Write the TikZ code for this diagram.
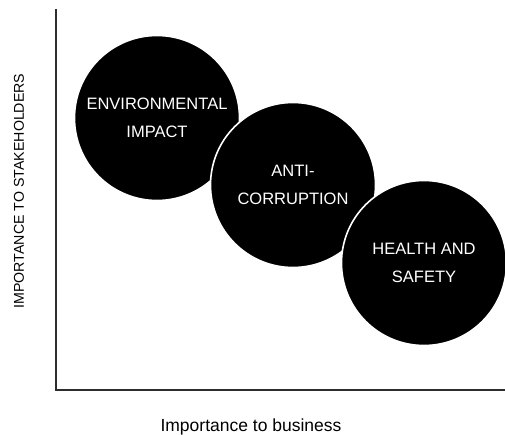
\documentclass[tikz,border=0pt]{standalone}
\usepackage{fontspec}
\setmainfont{Liberation Sans}
\usetikzlibrary{positioning}
\definecolor{axisgray}{RGB}{45,45,45}

\begin{document}
\begin{tikzpicture}[x=1pt, y=-1pt,
    bubble/.style={circle, fill=black, draw=white, line width=1.6pt, minimum size=165pt, inner sep=0pt, text=white, align=center, font=\fontsize{16.5}{28}\selectfont},
    axisline/.style={draw=axisgray, line width=1.5pt}]
        \useasboundingbox (0,0) rectangle (505,435);
        % axes
        \coordinate (ytop) at (56,9);
        \coordinate (origin) at (56,390);
        \coordinate (xend) at (505,390);
        \draw[axisline] (ytop) -- (origin) -- (xend);
        \node[rotate=90, font=\fontsize{14.2}{16}\selectfont] (ylabel) at (19,191) {IMPORTANCE TO STAKEHOLDERS};
        \node[font=\fontsize{17.5}{20}\selectfont] (xlabel) at (251,427) {Importance to business};
        % topics
        \node[bubble] (envimpact) at (157,118) {ENVIRONMENTAL\\IMPACT};
        \node[bubble] (anticorr) at (293,185) {ANTI-\\CORRUPTION};
        \node[bubble] (healthsafety) at (424,263) {HEALTH AND\\SAFETY};
      \end{tikzpicture}
\end{document}
